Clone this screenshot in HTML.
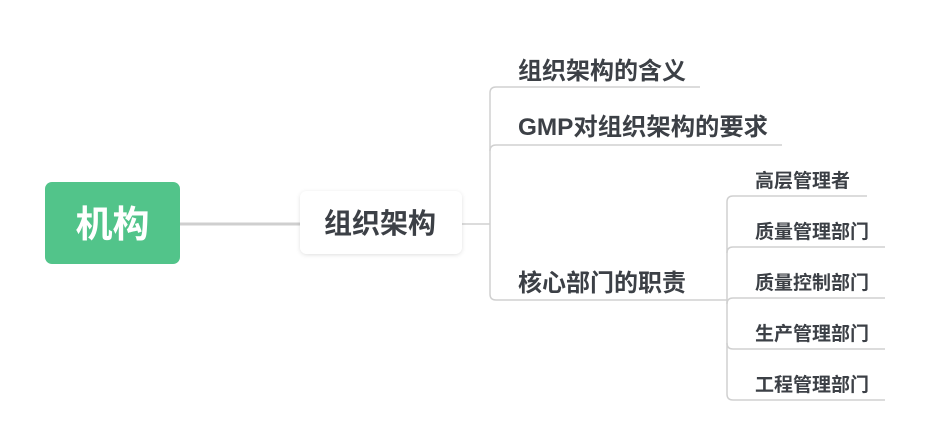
<!DOCTYPE html>
<html><head><meta charset="utf-8"><style>
body{margin:0;background:#fff;}
svg{display:block;}
text{font-family:"Liberation Sans","Noto Sans CJK SC",sans-serif;font-weight:bold;}
</style></head><body>
<svg width="930" height="447" viewBox="0 0 930 447" xmlns="http://www.w3.org/2000/svg">
<defs><filter id="sh" x="-20%" y="-30%" width="140%" height="160%"><feDropShadow dx="0" dy="1" stdDeviation="2" flood-color="#000" flood-opacity="0.12"/></filter></defs>
<line x1="180" y1="224" x2="300" y2="224" stroke="#cfcfcf" stroke-width="3"/>
<line x1="462" y1="224" x2="490" y2="224" stroke="#d0d0d0" stroke-width="1.5"/>
<g fill="none" stroke="#d0d0d0" stroke-width="1.5">
<path d="M700 87 H496 Q490 87 490 93 V294 Q490 300 496 300 H727"/>
<path d="M782 145 H496 Q490 145 490 151"/>
<path d="M867 196 H733 Q727 196 727 202 V394 Q727 400 733 400 H885"/>
<path d="M885 247 H733 Q727 247 727 253"/>
<path d="M885 298 H733 Q727 298 727 304"/>
<path d="M885 349 H733 Q727 349 727 343"/>
</g>
<rect x="45" y="182" width="135" height="82" rx="7" fill="#52c48a"/>
<text x="112.5" y="237" text-anchor="middle" font-size="37" fill="#fff">机构</text>
<rect x="300" y="191" width="162" height="63" rx="7" fill="#fff" filter="url(#sh)"/>
<text x="380" y="233" text-anchor="middle" font-size="28" fill="#3c4046">组织架构</text>
<g fill="#3c4046" font-size="24">
<text x="518" y="79">组织架构的含义</text>
<text x="518" y="135" textLength="250" lengthAdjust="spacingAndGlyphs">GMP对组织架构的要求</text>
<text x="518" y="291">核心部门的职责</text>
</g>
<g fill="#3c4046" font-size="19">
<text x="755" y="187">高层管理者</text>
<text x="755" y="238">质量管理部门</text>
<text x="755" y="289">质量控制部门</text>
<text x="755" y="340">生产管理部门</text>
<text x="755" y="391">工程管理部门</text>
</g>
</svg>
</body></html>
